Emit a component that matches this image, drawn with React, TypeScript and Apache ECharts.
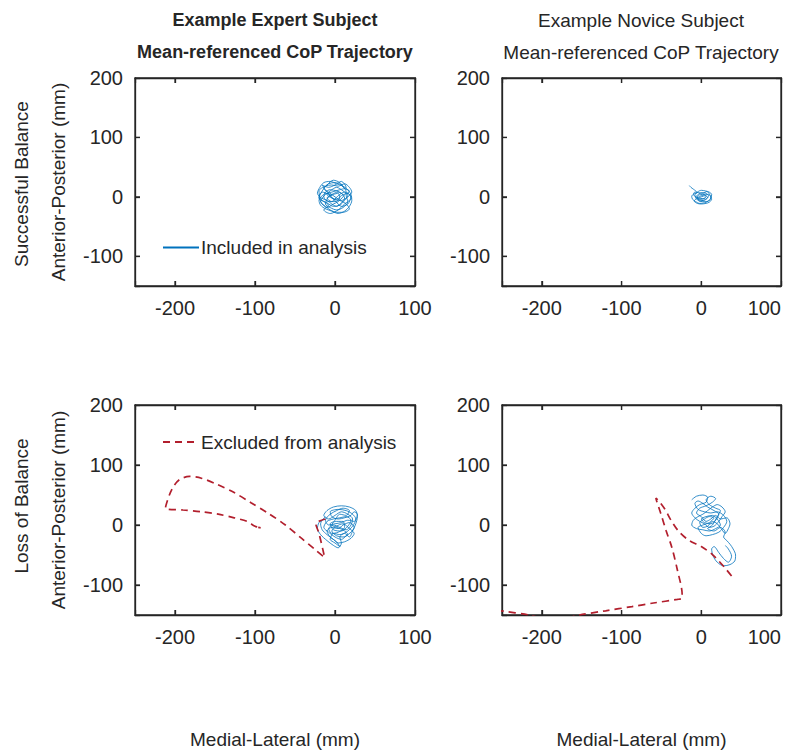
import React, { useEffect, useRef } from 'react';
import * as echarts from 'echarts';

const FONT = "'Liberation Sans', Arial, Helvetica, sans-serif";
const TEXT = '#262626';
const BLUE = '#0072BD';
const RED = '#B21F2D';

const xRange = [-250, 100];
const yRange = [-150, 200];
const xTickValues = [-200, -100, 0];
const yTickValues = [-100, 0, 100];

const columnTitles = [
  ['Example Expert Subject', 'Mean-referenced CoP Trajectory'],
  ['Example Novice Subject', 'Mean-referenced CoP Trajectory'],
];
const rowLabels = ['Successful Balance', 'Loss of Balance'];
const yName = 'Anterior-Posterior (mm)';
const xName = 'Medial-Lateral (mm)';
const legendIncluded = 'Included in analysis';
const legendExcluded = 'Excluded from analysis';

const expertSuccessIncluded = [
  [-4, 2], [-10, 6], [-16, 2], [-20, -6], [-18, -14], [-12, -20], [-4, -24], [4, -28], [12, -24], [18, -16],
  [21, -6], [20, 4], [16, 12], [10, 18], [2, 22], [-6, 26], [-14, 24], [-19, 16], [-22, 6], [-17, -2],
  [-10, -6], [-4, -12], [2, -16], [8, -10], [12, -2], [8, 6], [2, 10], [-6, 12], [-12, 8], [-14, 0],
  [-8, -8], [0, -8], [6, -2], [4, 6], [-2, 4], [-8, 0], [-12, -12], [-6, -18], [2, -22], [10, -18],
  [16, -8], [14, 2], [18, 10], [12, 14], [6, 24], [-2, 28], [-10, 20], [-16, 10], [-20, -2], [-14, -8],
  [-8, -14], [-14, -22], [-6, -28], [4, -22], [12, -12], [20, -2], [16, 6], [8, 2], [2, -4], [-4, -2],
  [-10, 4], [-6, 10], [2, 16], [10, 10], [16, 2], [12, -6], [6, -14], [-2, -16], [-10, -10], [-18, -4],
  [-20, 10], [-12, 18], [-4, 20], [4, 18], [12, 22], [18, 16], [21, 8], [14, -2], [8, -6], [0, 0],
  [-6, 6], [-14, 14], [-8, 22], [0, 24], [8, 20], [14, 8], [10, 0], [4, -8], [-2, -12], [-10, -18],
  [-16, -12], [-20, 0], [-16, 8], [-8, 4], [-2, -4], [6, -6], [14, -12], [18, -20], [10, -26], [2, -26],
  [-6, -22], [-12, -16], [-18, -8], [-12, 4], [-4, 8], [6, 12], [14, 16], [8, 26], [0, 20], [-8, 16],
  [-16, 20], [-12, 12], [-6, 2], [0, -6], [8, -16], [16, -12], [20, 0], [12, 8], [4, 2], [-4, -8],
  [-10, -2], [-4, 4], [4, 8], [10, 4],
];

const noviceSuccessIncluded = [
  [-15, 19], [-13, 16], [-10, 13], [-7, 10], [-5, 7], [-9, 5], [-12, 1], [-11, -4], [-7, -8], [-2, -11],
  [4, -10], [9, -7], [12, -2], [13, 4], [10, 8], [5, 10], [0, 11], [-5, 8], [-8, 3], [-6, -2],
  [-2, -5], [3, -6], [7, -3], [9, 2], [6, 6], [1, 7], [-4, 4], [-7, -1], [-4, -6], [1, -8],
  [6, -8], [11, -5], [12, 0], [8, 4], [3, 3], [-2, 1], [-6, -3], [-9, -7], [-5, -11], [0, -12],
  [6, -11], [10, -9], [13, -4], [11, 3], [7, 9], [2, 6], [-3, 7], [-8, 8], [-10, 4], [-7, 0],
  [-3, -2], [2, -3], [6, 0], [4, 4], [-1, 4], [-5, 0], [-2, -7], [4, -5], [8, -1], [5, 2],
  [0, 0], [-4, -3], [0, -4], [5, -2],
];

const expertLossIncluded = [
  [-14, 10], [-20, 4], [-22, -6], [-18, -16], [-10, -26], [-2, -34], [4, -38], [8, -30], [6, -20], [12, -14],
  [18, -20], [22, -10], [26, 2], [28, 14], [26, 24], [18, 30], [8, 32], [-2, 30], [-10, 24], [-14, 16],
  [-8, 10], [0, 16], [8, 22], [16, 18], [22, 10], [20, 0], [14, -8], [6, -4], [-2, 0], [-8, -6],
  [-4, -14], [4, -12], [12, -4], [10, 6], [2, 6], [-6, 2], [-2, -8], [8, -10], [16, -2], [20, 8],
  [14, 14], [6, 12], [-2, 10], [-10, 6], [-14, -4], [-8, -12], [0, -20], [8, -24], [14, -18], [20, -12],
  [24, -4], [18, 4], [10, 0], [4, -6], [-4, -4], [-10, -10], [-6, -20], [2, -28], [6, -36], [0, -30],
  [-6, -24], [-2, -14], [6, -16], [14, -12], [22, -2], [26, 10], [22, 18], [14, 24], [4, 26], [-6, 22],
  [-4, 14], [4, 10], [12, 12], [20, 16], [24, 22], [28, 18], [24, 6], [16, 8], [8, 4], [0, 2],
  [-8, 0], [-12, 8], [-6, 18], [2, 24], [10, 28], [18, 24], [14, 16], [6, 18], [0, 8], [-4, 0],
  [2, -4], [10, -8], [16, -16], [10, -20], [2, -18], [-4, -10], [2, -2], [10, 2], [18, -6], [24, -14],
  [20, -22], [12, -28], [4, -30], [-2, -24], [-10, -16], [-16, -8], [-18, 2], [-12, 14],
];

const expertLossExcluded = [
  [-12, 10], [-24, 2], [-20, -14], [-13, -54], [-24, -42], [-42, -22], [-62, 0], [-84, 20], [-105, 37], [-126, 54],
  [-148, 68], [-167, 78], [-182, 81], [-194, 76], [-201, 66], [-207, 50], [-212, 28], [-190, 25], [-167, 22], [-146, 18],
  [-126, 12], [-110, 6], [-100, -2], [-92, -5], [-96, -4],
];

const noviceLossIncluded = [
  [-12, 42], [-6, 48], [2, 50], [8, 46], [6, 38], [-2, 34], [-8, 28], [-12, 20], [-8, 12], [-2, 6],
  [4, 2], [10, -4], [16, -2], [22, 6], [26, 14], [30, 22], [26, 30], [20, 34], [14, 30], [8, 24],
  [2, 18], [-4, 14], [-10, 8], [-12, 0], [-6, -6], [2, -8], [10, -10], [18, -6], [24, 0], [20, 10],
  [14, 16], [6, 14], [0, 10], [4, 4], [12, 2], [18, 8], [22, 18], [16, 24], [8, 30], [2, 36],
  [-4, 40], [-8, 36], [-4, 26], [4, 22], [12, 20], [20, 22], [28, 16], [32, 6], [28, -4], [22, -12],
  [14, -16], [6, -18], [0, -14], [-4, -4], [2, 0], [10, 4], [16, 12], [10, 14], [4, 10], [-2, 4],
  [2, -4], [8, -2], [14, 6], [20, 2], [26, -8], [30, -14], [34, -6], [36, 2], [32, 12], [24, 10],
  [18, 16], [12, 10], [6, 6], [0, 14], [-6, 20], [-2, 28], [6, 32], [14, 38], [18, 44], [12, 48],
  [6, 42], [10, 34], [18, 28], [24, 24], [20, 14], [14, 0], [8, -6], [16, -10], [24, -4], [30, -12],
  [28, -20], [32, -26], [36, -32], [40, -40], [43, -50], [42, -60], [36, -66], [28, -68], [20, -62], [15, -52],
  [13, -40], [16, -36], [22, -46], [28, -56], [34, -62], [38, -52], [34, -40], [30, -34],
];

const noviceLossExcluded = [
  [38, -85], [30, -72], [22, -60], [13, -48], [0, -36], [-16, -25], [-28, -11], [-38, 8], [-45, 25], [-52, 38],
  [-57, 45], [-56, 40], [-51, 20], [-44, -10], [-37, -37], [-30, -75], [-24, -116], [-24, -122], [-30, -124], [-60, -130],
  [-87, -136], [-120, -143], [-153, -150], [-185, -160], [-216, -150], [-251, -143], [-270, -138],
];

const grids = [
  { left: 135, top: 78, width: 280, height: 208 },
  { left: 502, top: 78, width: 279, height: 208 },
  { left: 135, top: 405, width: 280, height: 210 },
  { left: 502, top: 405, width: 279, height: 210 },
];

const tickFmt = (v: number) => (v % 100 === 0 ? String(v) : '');
const emptyFmt = () => '';

export default function App() {
  const ref = useRef<HTMLDivElement>(null);
  useEffect(() => {
    if (!ref.current) return;
    const chart = echarts.init(ref.current, undefined, { renderer: 'svg' });
    const mkLine = () => ({ show: true, onZero: false, lineStyle: { color: TEXT, width: 1.3 } });
    const mkTick = () => ({ show: true, inside: true, length: 5, lineStyle: { color: TEXT, width: 1.3 } });
    const labelStyle = () => ({ color: TEXT, fontSize: 20, fontFamily: FONT, formatter: tickFmt, margin: 12 });
    const xAxis: any[] = [];
    const yAxis: any[] = [];
    grids.forEach((_, i) => {
      const bottomRow = i >= 2;
      const leftCol = i % 2 === 0;
      const xLabel: any = labelStyle();
      if (!leftCol) xLabel.alignMaxLabel = 'right';
      xAxis.push({
        gridIndex: i, type: 'value', min: xRange[0], max: xRange[1], position: 'bottom',
        axisLine: mkLine(), axisTick: mkTick(), splitLine: { show: false },
        axisLabel: xLabel,
        name: bottomRow ? xName : '', nameLocation: 'middle', nameGap: 115,
        nameTextStyle: { color: TEXT, fontSize: 19, fontFamily: FONT },
      });
      xAxis.push({
        gridIndex: i, type: 'value', min: xRange[0], max: xRange[1], position: 'top',
        axisLine: mkLine(), axisTick: mkTick(), splitLine: { show: false },
        axisLabel: { show: true, formatter: emptyFmt },
      });
      yAxis.push({
        gridIndex: i, type: 'value', min: yRange[0], max: yRange[1], position: 'left',
        axisLine: mkLine(), axisTick: mkTick(), splitLine: { show: false },
        axisLabel: labelStyle(),
        name: leftCol ? yName : '', nameLocation: 'middle', nameGap: 67, nameRotate: 90,
        nameTextStyle: { color: TEXT, fontSize: 19, fontFamily: FONT },
      });
      yAxis.push({
        gridIndex: i, type: 'value', min: yRange[0], max: yRange[1], position: 'right',
        axisLine: mkLine(), axisTick: mkTick(), splitLine: { show: false },
        axisLabel: { show: true, formatter: emptyFmt },
      });
    });

    const blue = (i: number, data: number[][]) => ({
      type: 'line', name: legendIncluded, xAxisIndex: i * 2, yAxisIndex: i * 2, data,
      symbol: 'none', smooth: 0.3, clip: true,
      lineStyle: { color: BLUE, width: 0.8 }, itemStyle: { color: BLUE }, z: 2,
    });
    const red = (i: number, data: number[][]) => ({
      type: 'line', name: legendExcluded, xAxisIndex: i * 2, yAxisIndex: i * 2, data,
      symbol: 'none', smooth: 0.3, clip: true,
      lineStyle: { color: RED, width: 1.7, type: [7, 5] }, itemStyle: { color: RED }, z: 3,
    });

    const graphic: any[] = [];
    grids.forEach((g) => {
      graphic.push({
        type: 'rect', silent: true, z: 1,
        shape: { x: g.left, y: g.top, width: g.width, height: g.height },
        style: { fill: 'none', stroke: TEXT, lineWidth: 1.3 },
      });
    });
    const colX = [275, 641];
    columnTitles.forEach((lines, c) => {
      lines.forEach((t, k) => {
        graphic.push({
          type: 'text', x: colX[c], y: k === 0 ? 20 : 52,
          style: {
            text: t, textAlign: 'center', textVerticalAlign: 'middle', fill: TEXT,
            font: c === 0 ? `bold 18px ${FONT}` : `19px ${FONT}`,
          },
        });
      });
    });
    const rowY = [184, 506];
    rowLabels.forEach((t, r) => {
      graphic.push({
        type: 'text', x: 21, y: rowY[r], rotation: Math.PI / 2,
        style: { text: t, textAlign: 'center', textVerticalAlign: 'middle', fill: TEXT, font: `19px ${FONT}` },
      });
    });

    const legendBase = {
      orient: 'horizontal', itemWidth: 36, itemHeight: 14, itemGap: 0, selectedMode: false,
      itemStyle: { opacity: 0 }, padding: 0,
      textStyle: { color: TEXT, fontSize: 19, fontFamily: FONT, padding: [0, 0, 0, -3] },
    };

    chart.setOption({
      animation: false,
      backgroundColor: '#ffffff',
      grid: grids.map((g) => ({ ...g, outerBoundsMode: 'none', containLabel: false })),
      xAxis,
      yAxis,
      legend: [
        { ...legendBase, data: [legendIncluded], left: 162, top: 238 },
        { ...legendBase, data: [legendExcluded], left: 162, top: 432.5 },
      ],
      graphic,
      series: [
        blue(0, expertSuccessIncluded),
        blue(1, noviceSuccessIncluded),
        blue(2, expertLossIncluded),
        red(2, expertLossExcluded),
        blue(3, noviceLossIncluded),
        red(3, noviceLossExcluded),
      ],
    });

    // Inward tick marks on all four sides, placed through the axes' own scales.
    const tickLen = 5;
    const tickStyle = { stroke: TEXT, lineWidth: 1.2 };
    const ticks: any[] = [];
    grids.forEach((g, i) => {
      xTickValues.forEach((v) => {
        const px = chart.convertToPixel({ xAxisIndex: i * 2 }, v) as number;
        if (typeof px !== 'number' || !isFinite(px)) return;
        ticks.push({ type: 'line', silent: true, z: 1, shape: { x1: px, y1: g.top + g.height, x2: px, y2: g.top + g.height - tickLen }, style: tickStyle });
        ticks.push({ type: 'line', silent: true, z: 1, shape: { x1: px, y1: g.top, x2: px, y2: g.top + tickLen }, style: tickStyle });
      });
      yTickValues.forEach((v) => {
        const py = chart.convertToPixel({ yAxisIndex: i * 2 }, v) as number;
        if (typeof py !== 'number' || !isFinite(py)) return;
        ticks.push({ type: 'line', silent: true, z: 1, shape: { x1: g.left, y1: py, x2: g.left + tickLen, y2: py }, style: tickStyle });
        ticks.push({ type: 'line', silent: true, z: 1, shape: { x1: g.left + g.width, y1: py, x2: g.left + g.width - tickLen, y2: py }, style: tickStyle });
      });
    });
    chart.setOption({ graphic: [...graphic, ...ticks] });

    return () => chart.dispose();
  }, []);
  return (
    <div
      ref={ref}
      style={{ position: 'fixed', left: 0, top: 0, width: 791, height: 752, background: '#fff' }}
    />
  );
}
